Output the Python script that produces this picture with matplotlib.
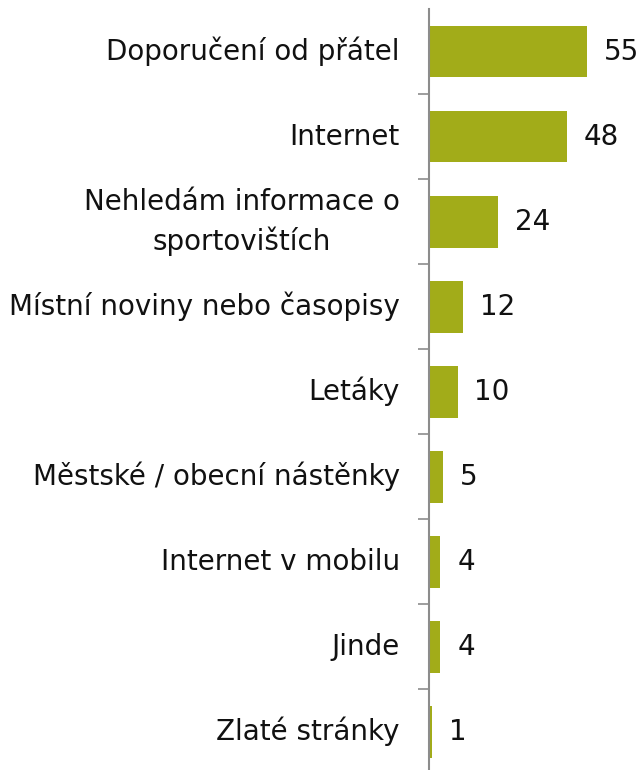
import matplotlib
matplotlib.use('Agg')
import matplotlib.pyplot as plt
import matplotlib.transforms as mtransforms
import numpy as np

# data
categories = ['Doporučení od přátel', 'Internet', 'Nehledám informace o\nsportovištích',
              'Místní noviny nebo časopisy', 'Letáky', 'Městské / obecní nástěnky',
              'Internet v mobilu', 'Jinde', 'Zlaté stránky']
values = [55, 48, 24, 12, 10, 5, 4, 4, 1]

plt.rcParams['font.family'] = ['DejaVu Sans']

fig = plt.figure(figsize=(6.41, 7.70), dpi=100)
ax = fig.add_axes([429 / 641, 0, 1 - 429 / 641, 1 - 9 / 770])

y = np.arange(len(categories))
ax.barh(y, values, height=0.61, color='#a2ac19', edgecolor='none')

# value labels
for yi, v in zip(y, values):
    ax.annotate(str(v), (v, yi), xytext=(12, 0), textcoords='offset points',
                va='center', ha='left', fontsize=20, color='#111111')

# category labels (drawn as text so the two-line one is centred on its bar)
tr = ax.get_yaxis_transform() + mtransforms.ScaledTranslation(-21 / 72, 0, fig.dpi_scale_trans)
for yi, lab in zip(y, categories):
    ax.text(0, yi, lab, transform=tr, ha='right', va='center', fontsize=20,
            color='#111111', multialignment='center', linespacing=1.45)

ax.set_xlim(0, 73.8)
ax.set_ylim(8.45, -0.5)

ax.set_yticks([])
ax.set_yticks(np.arange(0.5, len(categories) - 1, 1), minor=True)
ax.tick_params(axis='y', which='minor', length=8, width=1.2, color='#8c8c8c')
ax.set_xticks([])

for s in ['top', 'right', 'bottom']:
    ax.spines[s].set_visible(False)
ax.spines['left'].set_color('#8c8c8c')
ax.spines['left'].set_linewidth(1.5)

fig.savefig('out.png', dpi=100)
